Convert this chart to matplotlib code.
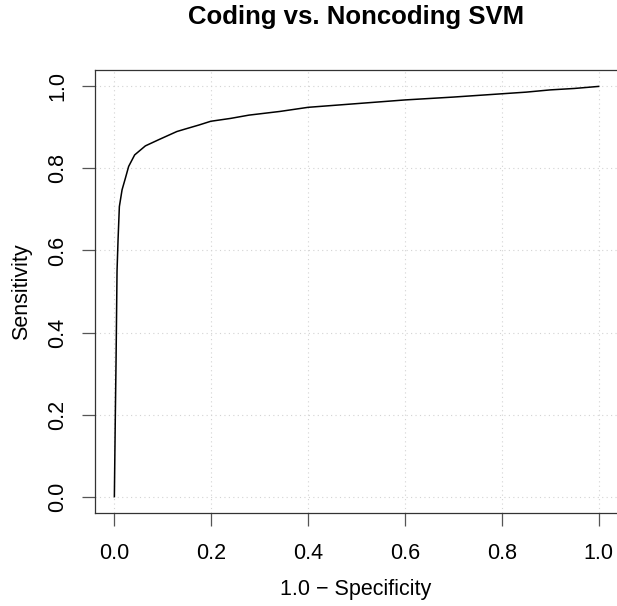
import matplotlib
matplotlib.use("Agg")
import matplotlib.pyplot as plt

plt.rcParams['font.family'] = ['Liberation Sans', 'DejaVu Sans']

# ROC curve
fpr = [0, 0.002, 0.0035, 0.0055, 0.0076, 0.0103, 0.0159, 0.0227, 0.0295,
       0.0419, 0.064, 0.0914, 0.129, 0.146, 0.175, 0.199, 0.24, 0.278,
       0.342, 0.4, 0.5, 0.6, 0.7, 0.8, 0.85, 0.9, 0.95, 1.0]
tpr = [0, 0.2, 0.334, 0.55, 0.626, 0.707, 0.748, 0.776, 0.805,
       0.833, 0.855, 0.870, 0.890, 0.896, 0.906, 0.915, 0.922, 0.930,
       0.939, 0.949, 0.958, 0.967, 0.974, 0.982, 0.986, 0.9915, 0.995, 1.0]
ticks = [0.0, 0.2, 0.4, 0.6, 0.8, 1.0]
tick_labels = ["0.0", "0.2", "0.4", "0.6", "0.8", "1.0"]

W, H = 617, 606
fig = plt.figure(figsize=(W / 100, H / 100), dpi=100)
# axes box in pixel coords: left 95, right 618, top 70, bottom 513
ax = fig.add_axes([95 / W, (H - 513) / H, (618 - 95) / W, (513 - 70) / H])

ax.plot(fpr, tpr, color='black', lw=1.1)
ax.set_xlim(-0.04, 1.04)
ax.set_ylim(-0.04, 1.04)

ax.set_xticks(ticks)
ax.set_yticks(ticks)
ax.set_xticklabels(tick_labels)
ax.set_yticklabels(tick_labels, rotation=90, va='center')
ax.tick_params(axis='both', direction='out', length=9.5, width=0.9,
               color='#555555', labelsize=15.5)
ax.tick_params(axis='x', pad=12)
ax.tick_params(axis='y', pad=10)
ax.grid(True, color='#d3d3d3', linestyle=(0, (1, 3)), lw=0.8)
for s in ax.spines.values():
    s.set_linewidth(0.9)
    s.set_color('#333333')

fig.text(356 / W, 1 - 17 / H, "Coding vs. Noncoding SVM", ha='center',
         va='center', fontsize=18.5, fontweight='bold')
fig.text(356 / W, 1 - 589.5 / H, "1.0 \u2212 Specificity", ha='center',
         va='center', fontsize=15.5)
fig.text(22 / W, 1 - 292 / H, "Sensitivity", ha='center', va='center',
         rotation=90, fontsize=15.5)

fig.savefig("out.png", dpi=100)
